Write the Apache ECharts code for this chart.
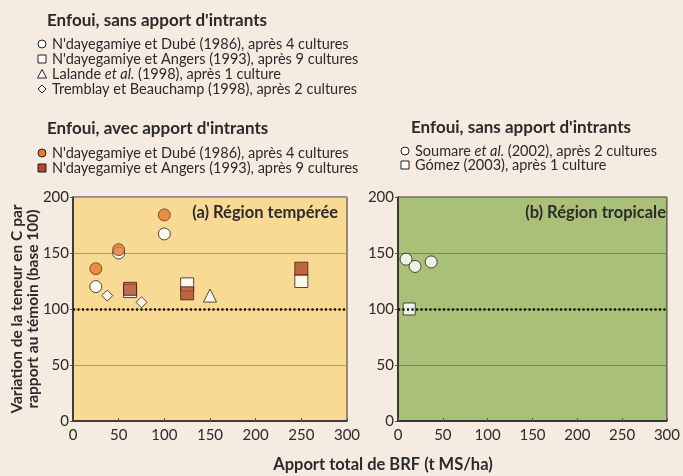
<!DOCTYPE html>
<html><head><meta charset="utf-8">
<script src="https://cdn.jsdelivr.net/npm/echarts@6/dist/echarts.min.js"></script>
<style>html,body{margin:0;padding:0;background:#F5EBE0;}#c{width:683px;height:476px;}</style>
</head><body><div id="c"></div>
<script>
// ---- Data ----
const xTicks = [0, 50, 100, 150, 200, 250, 300];
const yTicks = [0, 50, 100, 150, 200];
const refLine = 100;
// (a) Région tempérée — sans apport d'intrants
const dubeSans = [[25, 120], [50, 150], [100, 167]];
const angersSans = [[62.5, 116], [125, 122], [250, 125]];
const lalandeSans = [[150, 112]];
const tremblaySans = [[37.5, 112], [75, 106]];
// (a) — avec apport d'intrants
const dubeAvec = [[25, 136], [50, 153], [100, 184]];
const angersAvec = [[62.5, 118], [125, 114], [250, 136]];
// (b) Région tropicale — sans apport d'intrants
const soumare = [[9, 144.5], [19, 138], [37, 142]];
const gomez = [[12.5, 100]];

const FONT = 'Lato, "Open Sans", sans-serif';
const TXT = '#2b2b2b';
const chart = echarts.init(document.getElementById('c'), null, {renderer: 'canvas'});

function xAxis(idx) {
  return {gridIndex: idx, type: 'value', min: 0, max: 300, interval: 50,
    axisLine: {show: true, lineStyle: {color: '#222', width: 1.5}},
    axisTick: {show: true, length: 3, inside: true, lineStyle: {color: '#555'}},
    axisLabel: {color: TXT, fontSize: 15, fontFamily: FONT, margin: 7},
    splitLine: {show: false}};
}
function yAxis(idx, gridCol) {
  return {gridIndex: idx, type: 'value', min: 0, max: 200, interval: 50,
    axisLine: {show: true, lineStyle: {color: '#222', width: 1.5}},
    axisTick: {show: true, length: 3, lineStyle: {color: '#555'}},
    axisLabel: {color: TXT, fontSize: 15, fontFamily: FONT, margin: 4},
    splitLine: {show: true, lineStyle: {color: gridCol, width: 1}}};
}
const white = {color: '#ffffff', borderColor: '#222', borderWidth: 1};
function sc(name, data, xi, symbol, size, style, z) {
  return {name, type: 'scatter', xAxisIndex: xi, yAxisIndex: xi, data,
    symbol, symbolSize: size, itemStyle: style, z: z || 3, animation: false};
}
function ref(xi) {
  return {type: 'line', xAxisIndex: xi, yAxisIndex: xi, data: [], z: 10, animation: false,
    markLine: {silent: true, symbol: 'none', label: {show: false},
      lineStyle: {color: '#111', type: [2, 2.5], width: 2.5},
      data: [{yAxis: refLine}]}};
}

function legendText(x, y, txt, bold, size) {
  return {type: 'text', left: x, top: y, style: {text: txt, fill: TXT,
    font: (bold ? 'bold ' : '') + (size || 13) + 'px ' + FONT}};
}
function richText(x, cy, parts) {
  return {type: 'text', x: x, y: cy, style: {text: parts.map(p => '{' + p[0] + '|' + p[1] + '}').join(''),
    verticalAlign: 'middle',
    rich: {n: {fill: TXT, font: '14.5px ' + FONT}, i: {fill: TXT, font: 'italic 14.5px ' + FONT}}}};
}
function sym(kind, cx, cy, fill) {
  const st = {fill: fill || '#fff', stroke: '#222', lineWidth: 1};
  if (kind === 'circle') return {type: 'circle', shape: {cx, cy, r: 4}, style: st};
  if (kind === 'rect') return {type: 'rect', shape: {x: cx - 4, y: cy - 4, width: 8, height: 8}, style: st};
  if (kind === 'triangle') return {type: 'polygon', shape: {points: [[cx, cy - 4.5], [cx + 4.5, cy + 4], [cx - 4.5, cy + 4]]}, style: st};
  if (kind === 'diamond') return {type: 'polygon', shape: {points: [[cx, cy - 4], [cx + 4, cy], [cx, cy + 4], [cx - 4, cy]]}, style: st};
}

const graphics = [
  legendText(47, 12, "Enfoui, sans apport d'intrants", true, 17),
  sym('circle', 42, 44), richText(52, 44, [['n', "N'dayegamiye et Dubé (1986), après 4 cultures"]]),
  sym('rect', 42, 59), richText(52, 59, [['n', "N'dayegamiye et Angers (1993), après 9 cultures"]]),
  sym('triangle', 42, 74), richText(52, 74, [['n', 'Lalande '], ['i', 'et al.'], ['n', ' (1998), après 1 culture']]),
  sym('diamond', 42, 89), richText(52, 89, [['n', 'Tremblay et Beauchamp (1998), après 2 cultures']]),

  legendText(47, 120, "Enfoui, avec apport d'intrants", true, 17),
  sym('circle', 42, 153, '#E8782F'), richText(52, 153, [['n', "N'dayegamiye et Dubé (1986), après 4 cultures"]]),
  sym('rect', 42, 168, '#B2472A'), richText(52, 168, [['n', "N'dayegamiye et Angers (1993), après 9 cultures"]]),

  legendText(411, 119, "Enfoui, sans apport d'intrants", true, 17),
  sym('circle', 405, 151), richText(415, 151, [['n', 'Soumare '], ['i', 'et al.'], ['n', ' (2002), après 2 cultures']]),
  sym('rect', 405, 165), richText(415, 165, [['n', 'Gómez (2003), après 1 culture']]),

  {type: 'text', right: 345, top: 204, style: {text: '(a) Région tempérée', fill: TXT, font: 'bold 16.5px ' + FONT}, z: 20},
  {type: 'text', right: 17, top: 204, style: {text: '(b) Région tropicale', fill: TXT, font: 'bold 16.5px ' + FONT}, z: 20},

  {type: 'text', x: 25, y: 309, rotation: Math.PI / 2,
    style: {text: 'Variation de la teneur en C par\nrapport au témoin (base 100)', fill: TXT,
      font: 'bold 15.5px ' + FONT, align: 'center', verticalAlign: 'middle', lineHeight: 16}},
  {type: 'text', x: 383, y: 465,
    style: {text: 'Apport total de BRF (t MS/ha)', fill: TXT, font: 'bold 16.5px ' + FONT,
      align: 'center', verticalAlign: 'middle'}}
];

chart.setOption({
  backgroundColor: '#F5EBE0',
  animation: false,
  grid: [
    {left: 73, top: 197, width: 274, height: 224, show: true, backgroundColor: '#F8DA94', borderColor: '#333', borderWidth: 1},
    {left: 398, top: 197, width: 275, height: 224, show: true, backgroundColor: '#AABF78', borderColor: '#333', borderWidth: 1}
  ],
  xAxis: [xAxis(0), xAxis(1)],
  yAxis: [yAxis(0, '#B39A5E'), yAxis(1, '#75894A')],
  series: [
    sc('dubeSans', dubeSans, 0, 'circle', 12, white, 3),
    sc('angersSans', angersSans, 0, 'rect', 13, white, 3),
    sc('lalandeSans', lalandeSans, 0, 'triangle', 13, white, 3),
    sc('tremblaySans', tremblaySans, 0, 'diamond', 11, white, 3),
    sc('dubeAvec', dubeAvec, 0, 'circle', 12, {color: '#E8782F', borderColor: '#5a3a20', borderWidth: 1}, 4),
    sc('angersAvec', angersAvec, 0, 'rect', 13, {color: '#B2472A', borderColor: '#3a2015', borderWidth: 1}, 4),
    ref(0),
    sc('soumare', soumare, 1, 'circle', 12, white, 3),
    sc('gomez', gomez, 1, 'rect', 12, white, 3),
    ref(1)
  ],
  graphic: graphics
});
</script></body></html>
